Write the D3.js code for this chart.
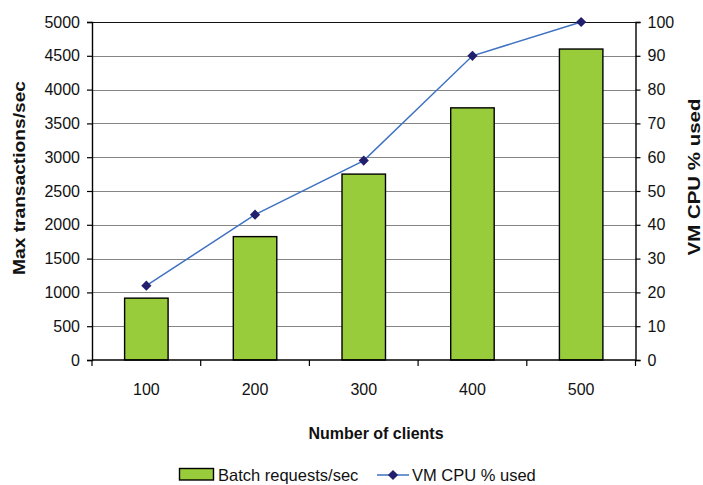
<!DOCTYPE html>
<html>
<head>
<meta charset="utf-8">
<script src="https://cdn.jsdelivr.net/npm/d3@7"></script>
<style>
  html, body { margin: 0; padding: 0; background: #fff; }
  svg { display: block; font-family: "Liberation Sans", Arial, sans-serif; }
</style>
</head>
<body>
<svg id="chart" width="703" height="485"></svg>
<script>
const categories = ["100", "200", "300", "400", "500"];
const batchRequests = [915, 1825, 2750, 3730, 4600];
const cpuUsed = [22, 43, 59, 90, 100];
const leftTicks = [0, 500, 1000, 1500, 2000, 2500, 3000, 3500, 4000, 4500, 5000];
const rightTicks = [0, 10, 20, 30, 40, 50, 60, 70, 80, 90, 100];
const seriesNames = ["Batch requests/sec", "VM CPU % used"];

const svg = d3.select("#chart");
const L = 92, R = 635.5, T = 22, B = 360;

const x = d3.scaleBand().domain(categories).range([L, R]).padding(0);
const yL = d3.scaleLinear().domain([0, 5000]).range([B, T]);
const yR = d3.scaleLinear().domain([0, 100]).range([B, T]);

// gridlines
svg.append("g").selectAll("line").data(leftTicks.filter(d => d > 0)).join("line")
  .attr("x1", L).attr("x2", R)
  .attr("y1", d => Math.round(yL(d)) + 0.5).attr("y2", d => Math.round(yL(d)) + 0.5)
  .attr("stroke", d => d === 5000 ? "#111" : "#858585").attr("stroke-width", 1.2);

// bars
const bw = x.bandwidth();
svg.append("g").selectAll("rect").data(categories).join("rect")
  .attr("x", (d) => x(d) + bw * 0.3)
  .attr("width", bw * 0.4)
  .attr("y", (d, i) => yL(batchRequests[i]))
  .attr("height", (d, i) => B - yL(batchRequests[i]))
  .attr("fill", "#99CC3A")
  .attr("stroke", "#000").attr("stroke-width", 1.4);

// left axis
const gL = svg.append("g").attr("transform", `translate(${L},0)`)
  .call(d3.axisLeft(yL).tickValues(leftTicks).tickSize(5).tickPadding(7).tickFormat(d3.format("d")));
// right axis
const gR = svg.append("g").attr("transform", `translate(${R},0)`)
  .call(d3.axisRight(yR).tickValues(rightTicks).tickSize(5).tickPadding(7).tickFormat(d3.format("d")));
// bottom axis
const gB = svg.append("g").attr("transform", `translate(0,${B})`)
  .call(d3.axisBottom(x).tickSize(0).tickPadding(24));
gB.selectAll(".tick").append("line")
  .attr("x1", -bw / 2).attr("x2", -bw / 2).attr("y1", 0).attr("y2", 6)
  .attr("stroke", "#000").attr("stroke-width", 1.2);
gB.append("line")
  .attr("x1", R).attr("x2", R).attr("y1", 0).attr("y2", 6)
  .attr("stroke", "#000").attr("stroke-width", 1.2);

[gL, gR, gB].forEach(g => {
  g.select(".domain").attr("stroke", "#000").attr("stroke-width", 1.4);
  g.selectAll(".tick line").attr("stroke", "#000").attr("stroke-width", 1.2);
  g.selectAll("text").attr("font-size", 16).attr("fill", "#111")
    .attr("font-family", "'Liberation Sans', Arial, sans-serif");
});
gB.select(".domain").attr("d", `M${L},0H${R}`);

// line series
const line = d3.line()
  .x((d, i) => x(categories[i]) + bw / 2)
  .y(d => yR(d));
svg.append("path").datum(cpuUsed).attr("d", line)
  .attr("fill", "none").attr("stroke", "#3F72C2").attr("stroke-width", 1.5);
const diamond = d3.symbol(d3.symbolSquare, 52);
svg.append("g").selectAll("path").data(cpuUsed).join("path")
  .attr("d", diamond)
  .attr("transform", (d, i) => `translate(${x(categories[i]) + bw / 2},${yR(d)}) rotate(45)`)
  .attr("fill", "#22206E");

// axis titles
svg.append("text")
  .attr("transform", "translate(25,178) rotate(-90)")
  .attr("text-anchor", "middle").attr("font-size", 17).attr("font-weight", "bold")
  .attr("textLength", 194).attr("lengthAdjust", "spacingAndGlyphs")
  .attr("fill", "#111")
  .text("Max transactions/sec");
svg.append("text")
  .attr("transform", "translate(700,177) rotate(-90)")
  .attr("text-anchor", "middle").attr("font-size", 17).attr("font-weight", "bold")
  .attr("textLength", 157).attr("lengthAdjust", "spacingAndGlyphs")
  .attr("fill", "#111")
  .text("VM CPU % used");
svg.append("text")
  .attr("x", 376).attr("y", 439)
  .attr("text-anchor", "middle").attr("font-size", 16).attr("font-weight", "bold")
  .attr("fill", "#111")
  .text("Number of clients");

// legend
const lg = svg.append("g");
lg.append("rect").attr("x", 179.5).attr("y", 468.5).attr("width", 34).attr("height", 11.5)
  .attr("fill", "#99CC3A").attr("stroke", "#000").attr("stroke-width", 1.4);
lg.append("text").attr("x", 218).attr("y", 481).attr("font-size", 16.5).attr("fill", "#111")
  .text(seriesNames[0]);
lg.append("line").attr("x1", 377).attr("x2", 409).attr("y1", 475).attr("y2", 475)
  .attr("stroke", "#3F72C2").attr("stroke-width", 1.5);
lg.append("path").attr("d", diamond).attr("transform", "translate(393,475) rotate(45)")
  .attr("fill", "#22206E");
lg.append("text").attr("x", 412).attr("y", 481).attr("font-size", 16.5).attr("fill", "#111")
  .text(seriesNames[1]);
</script>
</body>
</html>
